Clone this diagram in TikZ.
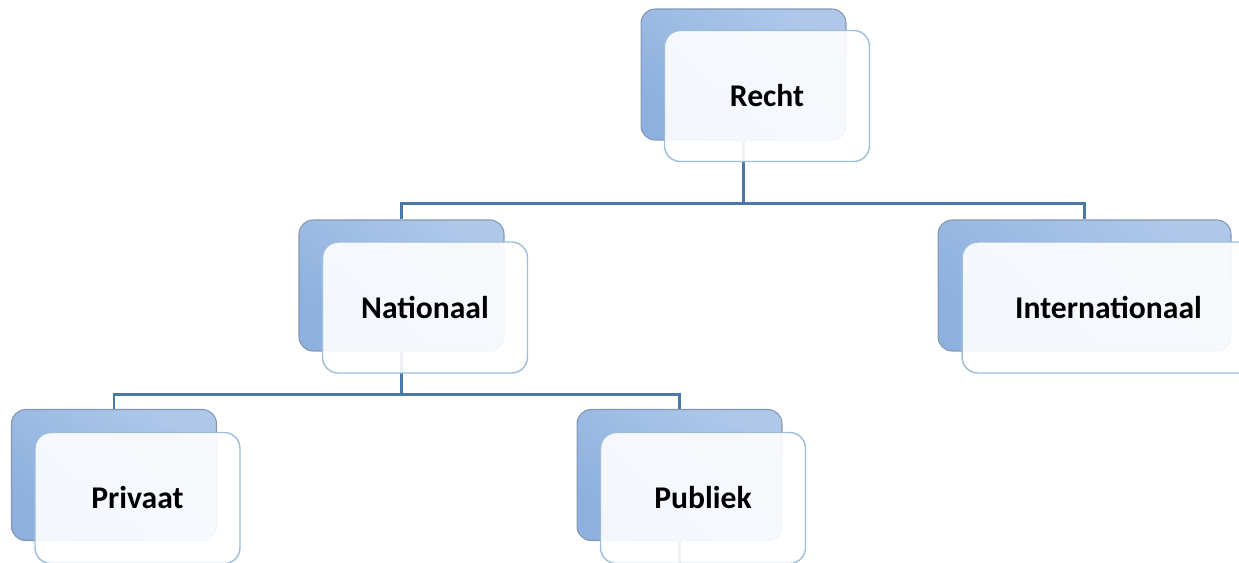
\documentclass[tikz,border=0pt]{standalone}
\usepackage{fontspec}
\setmainfont{Carlito}
\usepackage{tikz}
\usetikzlibrary{shapes}
\definecolor{backtop}{HTML}{AFC8EA}
\definecolor{backbot}{HTML}{8DB0DE}
\definecolor{backline}{HTML}{8497B0}
\definecolor{frontline}{HTML}{9DBDDA}
\definecolor{treeline}{HTML}{4A78A8}
\tikzset{
every picture/.style={
line width=1pt
}}

\begin{document}
\begin{tikzpicture}[x=0.02cm, y=-0.02cm,
back/.style = {rectangle, rounded corners=8pt, draw=backline, line width=0.6pt, top color=backtop, bottom color=backbot, shading angle=-40, minimum width=4.1cm, minimum height=2.62cm},
front/.style = {rectangle, rounded corners=9pt, draw=frontline, line width=0.8pt, fill=white, fill opacity=0.9, text opacity=1, minimum width=4.1cm, minimum height=2.62cm, font=\fontsize{18}{21}\selectfont\bfseries},
link/.style = {draw=treeline, line width=1.3pt}]
\useasboundingbox (0,0) rectangle (1239,563);

\node[back] (rb) at (743.5,74.5) {};
\node[back] (nb) at (401.5,285.5) {};
\node[back, minimum width=5.86cm] (ib) at (1084.5,285.5) {};
\node[back] (vb) at (114,475) {};
\node[back] (pb) at (679.5,475) {};
\coordinate (down) at (679.5,563);

\draw [link] (rb.south) -- +(0,63) -| (nb.north);
\draw [link] (rb.south) -- +(0,63) -| (ib.north);
\draw [link] (nb.south) -- +(0,43) -| (vb.north);
\draw [link] (nb.south) -- +(0,43) -| (pb.north);
\draw [link] (pb.south) -- (down);

\node[front] (r) at (767,96) {Recht};
\node[front] (n) at (425,307.5) {Nationaal};
\node[front, minimum width=5.86cm] (i) at (1108.5,307.5) {Internationaal};
\node[front] (v) at (137.5,498) {Privaat};
\node[front] (p) at (703,498) {Publiek};
\end{tikzpicture}
\end{document}
